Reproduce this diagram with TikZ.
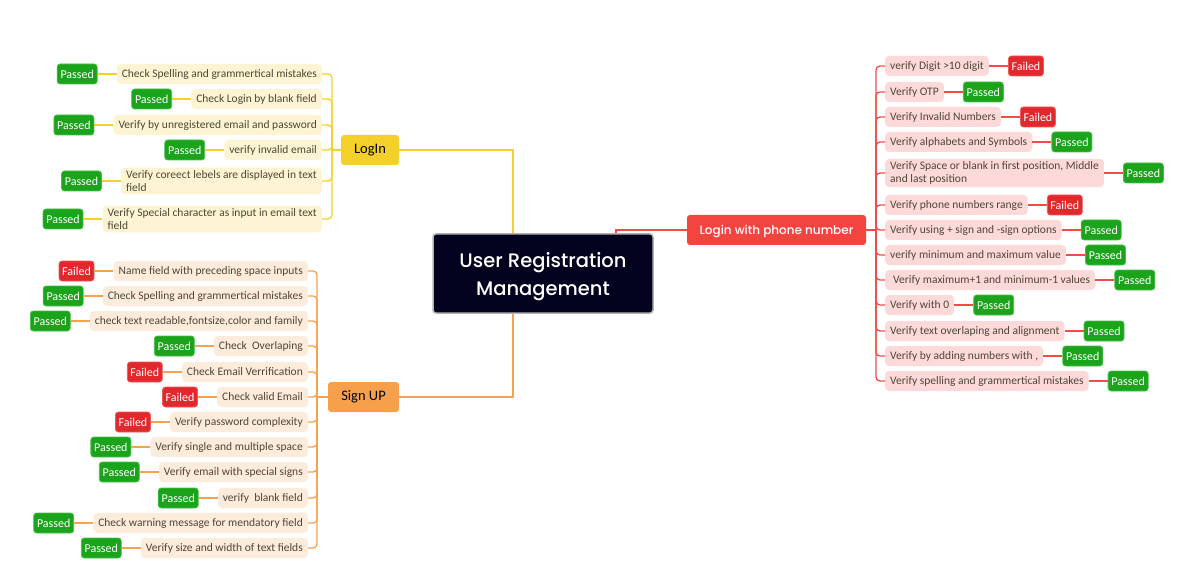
\documentclass[tikz,border=0pt]{standalone}
\usepackage{fontspec}
\setmainfont{Carlito}
\newfontfamily\pop{Poppins}[UprightFont=* Medium]
\definecolor{cyl}{HTML}{F5D02A}
\definecolor{cylf}{HTML}{F3D12A}
\definecolor{cyleaf}{HTML}{FDF4D3}
\definecolor{cor}{HTML}{F7A24F}
\definecolor{corf}{HTML}{F6A04C}
\definecolor{corleaf}{HTML}{FDEBDC}
\definecolor{crd}{HTML}{F44440}
\definecolor{crdl}{HTML}{F24C48}
\definecolor{crdleaf}{HTML}{FDD9D9}
\definecolor{pgreen}{HTML}{1CA31C}
\definecolor{pgreenb}{HTML}{48C048}
\definecolor{fred}{HTML}{E1282C}
\definecolor{fredb}{HTML}{F05A5A}
\definecolor{navy}{HTML}{02021E}
\definecolor{leaftext}{HTML}{4F4636}
\tikzset{
  leafbase/.style={rounded corners=4pt, minimum height=20pt, inner xsep=5pt, inner ysep=3pt,
    font=\fontsize{11.5}{12.5}\selectfont, text=leaftext, align=left},
  leafy/.style={leafbase, fill=cyleaf, anchor=east},
  leafo/.style={leafbase, fill=corleaf, anchor=east},
  leafr/.style={leafbase, fill=crdleaf, anchor=west},
  statusbase/.style={rounded corners=3pt, minimum height=20pt, inner sep=0pt, text=white,
    font=\fontsize{12}{13}\selectfont, line width=0.8pt},
  passed/.style={statusbase, fill=pgreen, draw=pgreenb, minimum width=40pt},
  failed/.style={statusbase, fill=fred, draw=fredb, minimum width=35pt},
  linky/.style={draw=cyl, line width=1.3pt},
  linko/.style={draw=cor, line width=1.3pt},
  linkr/.style={draw=crdl, line width=1.3pt},
  trunk/.style={rounded corners=4pt},
  branch/.style={rounded corners=3pt, minimum height=30pt, inner sep=0pt},
}
\begin{document}
\begin{tikzpicture}[x=1pt,y=-1pt]
\useasboundingbox[fill=white] (0,0) rectangle (1201,585);

% central node
\node[draw=black!30, fill=navy, line width=1.5pt, rounded corners=3pt, minimum width=220pt,
  minimum height=79pt, text=white, font=\pop\fontsize{19.5}{28}\selectfont, align=center]
  (center) at (543,273.5) {\rule{0pt}{20.5pt}User Registration\\Management};

% branch nodes
\node[branch, fill=cylf, minimum width=58pt, font=\fontsize{14.5}{16}\selectfont] (login) at (370,150) {LogIn};
\node[branch, fill=corf, minimum width=71pt, font=\fontsize{14.5}{16}\selectfont] (signup) at (363.5,397) {Sign UP};
\node[branch, fill=crd, minimum width=179pt, text=white, text height=11pt, text depth=1pt,
  font=\pop\fontsize{12}{14}\selectfont] (phone) at (776.5,230) {Login with phone number};

\draw[cyl, line width=2pt] (login.east) -| ([xshift=-30pt]center.north);
\draw[cor, line width=2pt] (signup.east) -| ([xshift=-30pt]center.south);
\draw[crdl, line width=2pt] ([xshift=73pt]center.north) |- (phone.west);

% ---------- LogIn leaves ----------
\coordinate (lt) at (332,150);
\draw[linky] (lt) -- (login.west);
\node[leafy] (l1) at (322,74) {Check Spelling and grammertical mistakes};
\node[leafy] (l2) at (322,99) {Check Login by blank field};
\node[leafy] (l3) at (322,125) {Verify by unregistered email and password};
\node[leafy] (l4) at (322,150) {verify invalid email};
\node[leafy] (l5) at (322,181) {Verify coreect lebels are displayed in text\\field};
\node[leafy] (l6) at (322,219) {Verify Special character as input in email text\\field};
\foreach \i in {1,...,6} {
  \node[passed, anchor=east] (ls\i) at ([xshift=-19pt]l\i.west) {Passed};
  \draw[linky] (ls\i) -- (l\i);
  \draw[linky, trunk] (l\i.east) -| (lt);
}

% ---------- Sign UP leaves ----------
\coordinate (st) at (317,397);
\draw[linko] (st) -- (signup.west);
\node[leafo] (u1) at (308,271) {Name field with preceding space inputs};
\node[leafo] (u2) at (308,296) {Check Spelling and grammertical mistakes};
\node[leafo] (u3) at (308,321) {check text readable,fontsize,color and family};
\node[leafo] (u4) at (308,346) {Check\ \ Overlaping};
\node[leafo] (u5) at (308,372) {Check Email Verrification};
\node[leafo] (u6) at (308,397) {Check valid Email};
\node[leafo] (u7) at (308,422) {Verify password complexity};
\node[leafo] (u8) at (308,447) {Verify single and multiple space};
\node[leafo] (u9) at (308,472) {Verify email with special signs};
\node[leafo] (u10) at (308,498) {verify\ \ blank field};
\node[leafo] (u11) at (308,523) {Check warning message for mendatory field};
\node[leafo] (u12) at (308,548) {Verify size and width of text fields};
\foreach \i/\st/\lab in {1/failed/Failed,2/passed/Passed,3/passed/Passed,4/passed/Passed,
  5/failed/Failed,6/failed/Failed,7/failed/Failed,8/passed/Passed,9/passed/Passed,
  10/passed/Passed,11/passed/Passed,12/passed/Passed} {
  \node[\st, anchor=east] (us\i) at ([xshift=-19pt]u\i.west) {\lab};
  \draw[linko] (us\i) -- (u\i);
  \draw[linko, trunk] (u\i.east) -| (st);
}

% ---------- Phone leaves ----------
\coordinate (pt) at (876,230);
\draw[linkr] (phone.east) -- (pt);
\node[leafr] (r1) at (885,66) {verify Digit >10 digit};
\node[leafr] (r2) at (885,92) {Verify OTP};
\node[leafr] (r3) at (885,117) {Verify Invalid Numbers};
\node[leafr] (r4) at (885,142) {Verify alphabets and Symbols};
\node[leafr] (r5) at (885,173) {Verify Space or blank in first position, Middle\\and last position};
\node[leafr] (r6) at (885,205) {Verify phone numbers range};
\node[leafr] (r7) at (885,230) {Verify using + sign and -sign options};
\node[leafr] (r8) at (885,255) {verify minimum and maximum value};
\node[leafr] (r9) at (885,280) {\hspace{3pt}Verify maximum+1 and minimum-1 values};
\node[leafr] (r10) at (885,305) {Verify with 0};
\node[leafr] (r11) at (885,331) {Verify text overlaping and alignment};
\node[leafr] (r12) at (885,356) {Verify by adding numbers with ,};
\node[leafr] (r13) at (885,381) {Verify spelling and grammertical mistakes};
\foreach \i/\st/\lab in {1/failed/Failed,2/passed/Passed,3/failed/Failed,4/passed/Passed,
  5/passed/Passed,6/failed/Failed,7/passed/Passed,8/passed/Passed,9/passed/Passed,
  10/passed/Passed,11/passed/Passed,12/passed/Passed,13/passed/Passed} {
  \node[\st, anchor=west] (rs\i) at ([xshift=19pt]r\i.east) {\lab};
  \draw[linkr] (r\i) -- (rs\i);
  \draw[linkr, trunk] (r\i.west) -| (pt);
}
\end{tikzpicture}
\end{document}
